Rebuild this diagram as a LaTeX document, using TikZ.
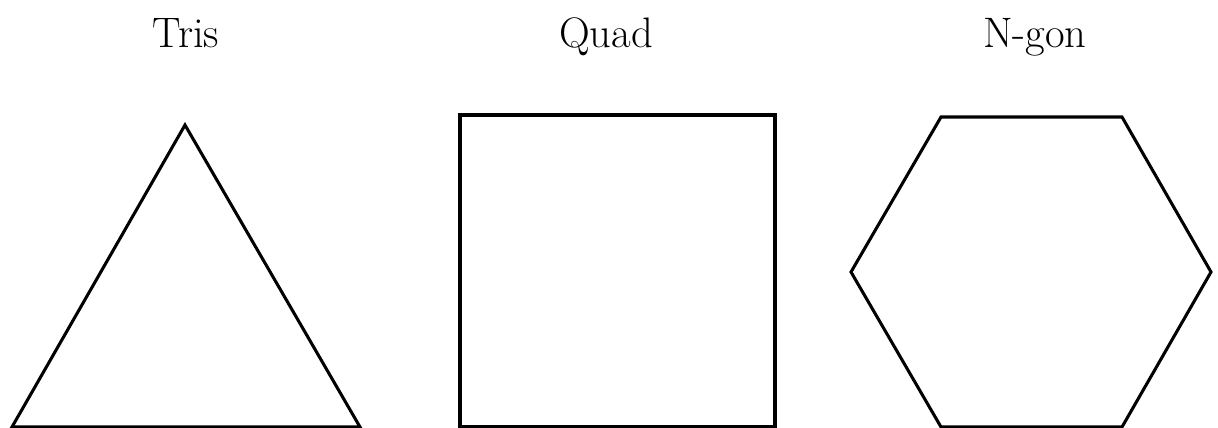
\documentclass[tikz,border=0pt]{standalone}
\begin{document}
\begin{tikzpicture}[x=0.75pt,y=-0.75pt,
  shapeline/.style={draw=black,line width=2.3pt,line join=miter},
  lbl/.style={anchor=base,inner sep=0pt,font=\fontsize{32}{36}\selectfont}]
\useasboundingbox (0,0) rectangle (1218,428);
\node[lbl] (tris) at (186,48) {Tris};
\node[lbl] (quad) at (606,48) {Quad};
\node[lbl] (ngon) at (1035,48) {N-gon};
% triangle
\draw[shapeline] (185,125) -- (12,427) -- (360,427) -- cycle;
% square
\draw[shapeline] (460,115) rectangle (775,427);
% hexagon
\draw[shapeline] (941,117) -- (1122,117) -- (1211,272) -- (1122,427) -- (941,427) -- (851,272) -- cycle;
\end{tikzpicture}
\end{document}
